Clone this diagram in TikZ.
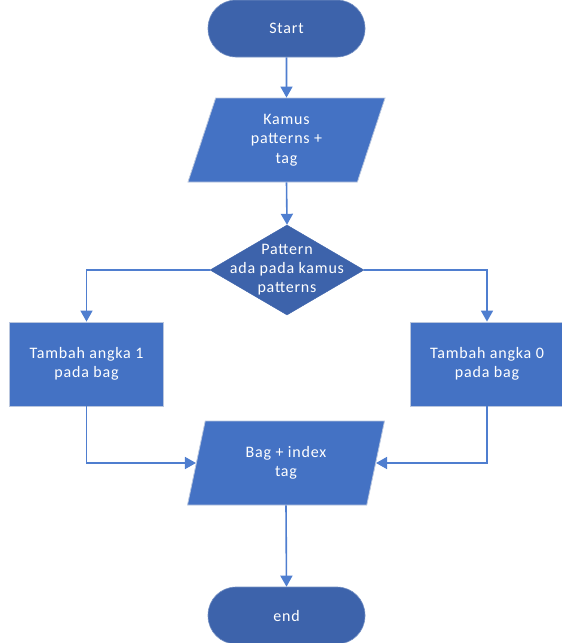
\documentclass[tikz,border=0pt]{standalone}
\usepackage{fontspec}
\setmainfont{Carlito}[LetterSpace=5]
\usetikzlibrary{shapes.geometric,arrows.meta,calc}
\definecolor{boxblue}{HTML}{4472C4}
\definecolor{darkblue}{HTML}{3D63AB}
\definecolor{linkblue}{HTML}{4F7ECF}
\definecolor{edge}{HTML}{B9C6DE}
\tikzset{
  x=1pt,y=-1pt,
  every node/.style={font=\fontsize{16}{19.5}\selectfont,text=white,align=center,inner sep=0pt},
  terminal/.style={rectangle,rounded corners=28pt,fill=darkblue,draw=darkblue!70!white,line width=0.6pt,minimum width=157pt,minimum height=57pt},
  iobox/.style={trapezium,trapezium left angle=62,trapezium right angle=118,trapezium stretches body,fill=boxblue,draw=edge,line width=0.8pt,minimum width=197pt,minimum height=84pt},
  procbox/.style={rectangle,fill=boxblue,draw=edge,line width=0.8pt,minimum width=154pt,minimum height=84pt},
  decision/.style={diamond,fill=darkblue,draw=darkblue,line width=0.4pt,minimum width=154pt,minimum height=90pt},
  link/.style={draw=linkblue,line width=1.6pt,-{Triangle[length=11pt,width=12pt]}}
}
\begin{document}
\begin{tikzpicture}
\useasboundingbox (0,0) rectangle (562,643);
\node[terminal] (start) at (286.5,28.5) {Start};
\node[iobox] (kamus) at (286.5,140) {Kamus\\patterns +\\tag};
\node[decision,label={[align=center,font=\fontsize{16}{19}\selectfont,text=white]center:Pattern\\ada pada kamus\\patterns}] (dec) at (287,270) {};
\node[procbox] (left) at (86.5,364) {Tambah angka 1\\pada bag};
\node[procbox] (right) at (487,364) {Tambah angka 0\\pada bag};
\node[iobox] (bag) at (286,463) {Bag + index\\tag};
\node[terminal] (end) at (286.5,615.5) {end};
\coordinate (bagw) at ($(bag.bottom left corner)!0.5!(bag.top left corner)$);
\coordinate (bage) at ($(bag.bottom right corner)!0.5!(bag.top right corner)$);
\draw[link] (start.south) -- (kamus.north);
\draw[link] (kamus.south) -- (dec.north);
\draw[link] (dec.west) -| (left.north);
\draw[link] (dec.east) -| (right.north);
\draw[link] (left.south) |- (bagw);
\draw[link] (right.south) |- (bage);
\draw[link] (bag.south) -- (end.north);
\end{tikzpicture}
\end{document}
